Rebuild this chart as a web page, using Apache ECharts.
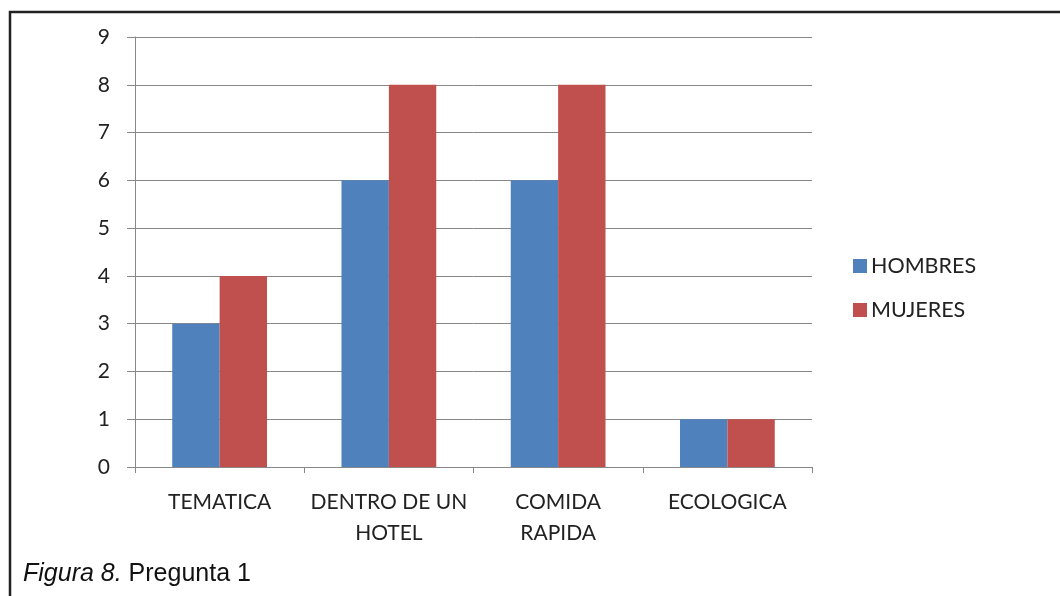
<!DOCTYPE html>
<html><head><meta charset="utf-8">
<script src="https://cdn.jsdelivr.net/npm/echarts@6/dist/echarts.min.js"></script>
<style>html,body{margin:0;padding:0;background:#fff}#c{width:1060px;height:596px}</style>
</head><body><div id="c"></div>
<script>
const categories = ['TEMATICA', 'DENTRO DE UN\nHOTEL', 'COMIDA\nRAPIDA', 'ECOLOGICA'];
const hombres = [3, 6, 6, 1];
const mujeres = [4, 8, 8, 1];
const seriesNames = ['HOMBRES', 'MUJERES'];

const chart = echarts.init(document.getElementById('c'), null, {renderer: 'canvas'});
const font = 'Lato, "Open Sans", sans-serif';
chart.setOption({
  animation: false,
  backgroundColor: '#fff',
  grid: {left: 135, top: 37, right: 248, bottom: 129},
  legend: {
    orient: 'vertical', left: 848, top: 250, itemWidth: 14, itemHeight: 14, itemGap: 22,
    icon: 'rect',
    textStyle: {fontFamily: font, fontSize: 21.5, color: '#222', padding: [0,0,0,-1]},
    data: seriesNames
  },
  xAxis: {
    type: 'category', data: categories,
    axisLine: {lineStyle: {color: '#888', width: 1}},
    axisTick: {show: true, length: 6, lineStyle: {color: '#888'}},
    axisLabel: {margin: 20, fontFamily: font, fontSize: 21, color: '#222', lineHeight: 31, interval: 0}
  },
  yAxis: {
    type: 'value', min: 0, max: 9, interval: 1,
    axisLine: {show: true, lineStyle: {color: '#888'}},
    axisTick: {show: true, length: 8, lineStyle: {color: '#888'}},
    splitLine: {lineStyle: {color: '#888', width: 1}},
    axisLabel: {margin: 25, fontFamily: font, fontSize: 21, color: '#222'}
  },
  series: [
    {name: seriesNames[0], type: 'bar', data: hombres, barGap: '0%', barCategoryGap: '44%', itemStyle: {color: '#4F81BD'}},
    {name: seriesNames[1], type: 'bar', data: mujeres, barGap: '0%', barCategoryGap: '44%', itemStyle: {color: '#C0504D'}}
  ],
  title: {
    left: 23, top: 562, padding: 0,
    text: '{i|Figura 8.} Pregunta 1',
    textStyle: {
      fontFamily: 'Liberation Sans, Arial, sans-serif', fontSize: 25, fontWeight: 'normal', color: '#111',
      rich: {i: {fontFamily: 'Liberation Sans, Arial, sans-serif', fontSize: 25, fontStyle: 'italic', color: '#111'}}
    }
  },
  graphic: [{
    type: 'rect', shape: {x: 10, y: 12, width: 1070, height: 620},
    style: {fill: 'none', stroke: '#222', lineWidth: 2.5}, silent: true
  }]
});
</script></body></html>
